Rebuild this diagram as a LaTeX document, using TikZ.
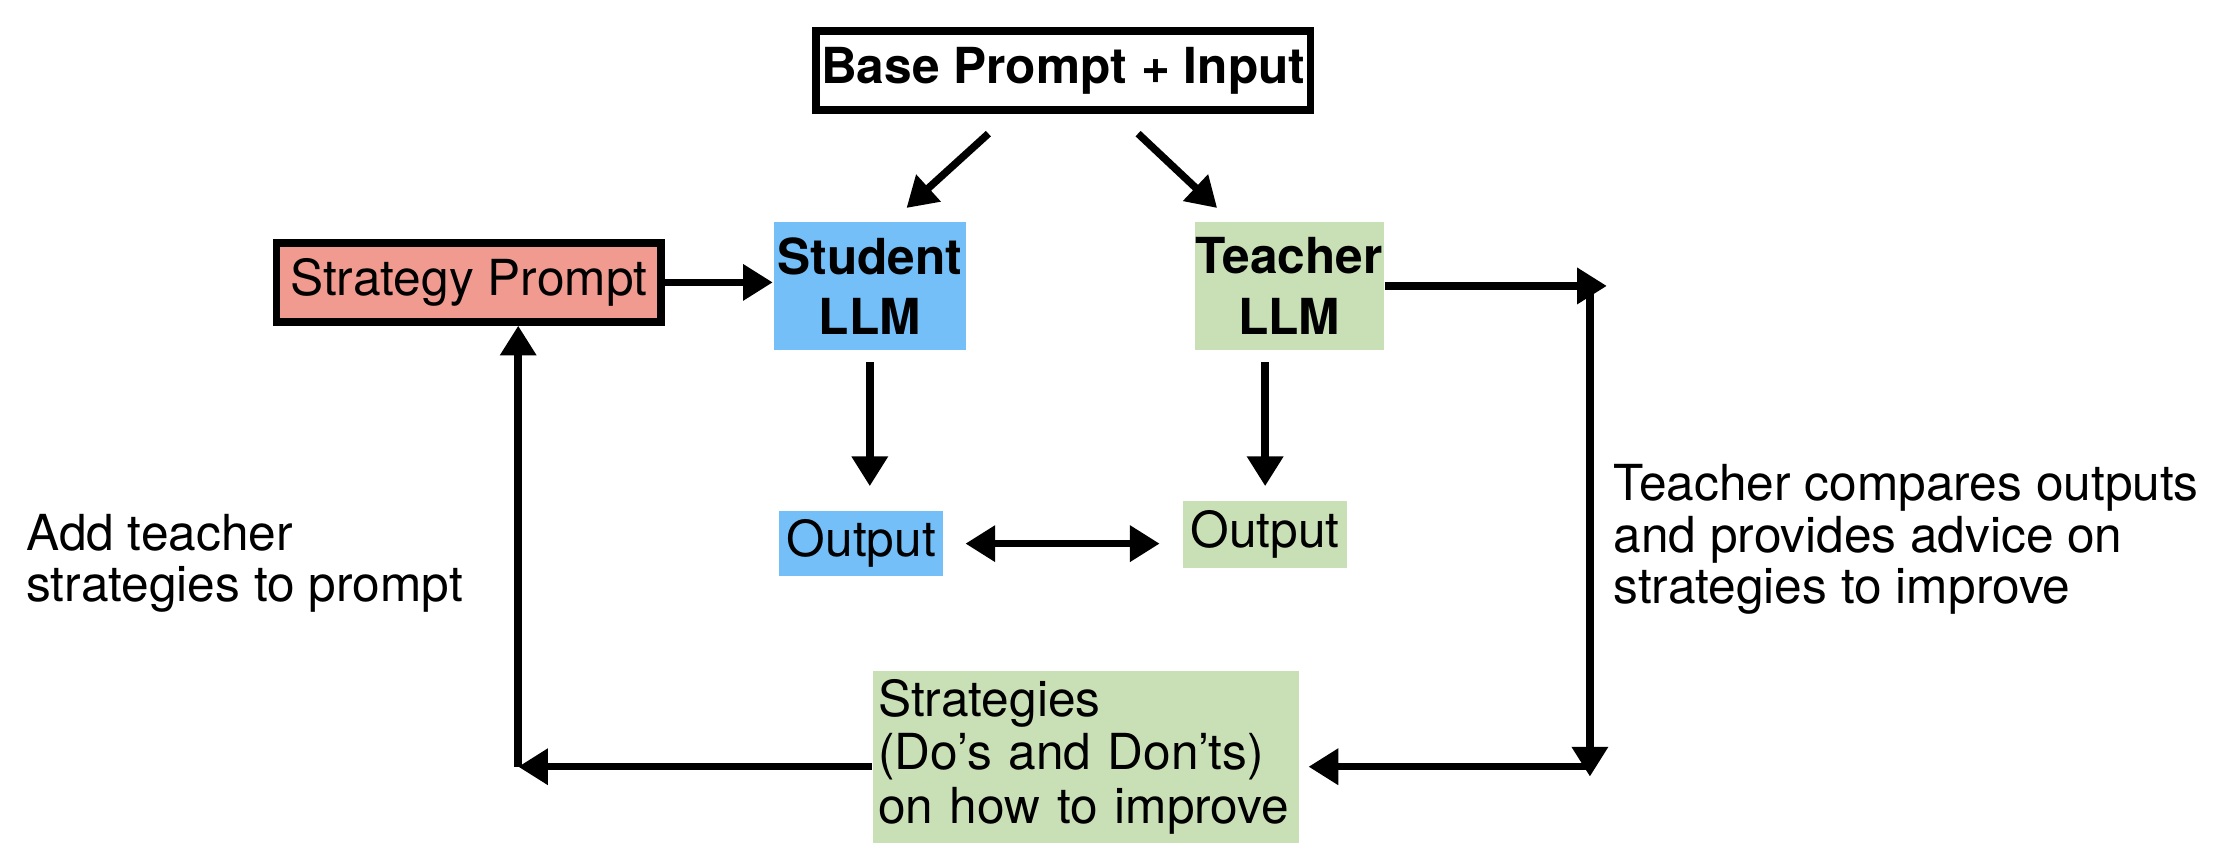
\documentclass[tikz,border=0pt]{standalone}
\usepackage{fontspec}
\setmainfont{TeX Gyre Heros}
\usepackage{tikz}
\usetikzlibrary{arrows.meta}
\definecolor{studentblue}{HTML}{74BFF8}
\definecolor{teachergreen}{HTML}{C9E0B7}
\definecolor{promptred}{HTML}{F09A90}

\begin{document}
\begin{tikzpicture}[x=1cm,y=1cm,font=\fontsize{10}{10.4}\selectfont,
    >={Triangle[length=6pt,width=7pt]},
    box/.style={inner sep=0pt,align=center},
    llm/.style={box,minimum height=0.91cm,
      font=\fontsize{10}{12.2}\selectfont\bfseries},
    flow/.style={line width=1.5pt,->}]
  \useasboundingbox (0,0) rectangle (15.68,6.08);

  \node[box,draw,line width=1.5pt,minimum width=3.5cm,minimum height=0.56cm,
        font=\bfseries] (base) at (7.53,5.58) {Base Prompt + Input};
  \node[llm,fill=studentblue,minimum width=1.36cm] (student) at (6.16,4.055)
    {Student\\LLM};
  \node[llm,fill=teachergreen,minimum width=1.34cm] (teacher) at (9.13,4.055)
    {Teacher\\LLM};
  \node[box,draw,line width=1.5pt,fill=promptred,minimum width=2.72cm,
        minimum height=0.56cm] (strat) at (3.32,4.08) {Strategy Prompt};

  \node[box,fill=studentblue,minimum width=1.16cm,minimum height=0.46cm]
    (outS) at (6.10,2.23) {Output};
  \node[box,fill=teachergreen,minimum width=1.16cm,minimum height=0.47cm]
    (outT) at (8.96,2.295) {Output};

  \node[box,fill=teachergreen,align=left,text width=2.94cm,inner xsep=0.04cm,
        minimum height=1.22cm,font=\fontsize{10}{10.8}\selectfont]
    (tips) at (7.69,0.72) {Strategies\\(Do’s and Don’ts)\\on how to improve};

  \node[anchor=west,inner sep=0pt,align=left] (addnote) at (0.18,2.09)
    {Add teacher\\strategies to prompt};
  \node[anchor=west,inner sep=0pt,align=left] (cmpnote) at (11.42,2.26)
    {Teacher compares outputs\\and provides advice on\\strategies to improve};

  % corners of the feedback loop
  \coordinate (ne) at (11.26,4.00);
  \coordinate (se) at (11.26,0.65);
  \coordinate (sw) at (3.67,0.65);

  \draw[flow] ([xshift=-0.53cm,yshift=-0.14cm]base.south)
    -- ([xshift=0.26cm,yshift=0.09cm]student.north);
  \draw[flow] ([xshift=0.53cm,yshift=-0.14cm]base.south)
    -- ([xshift=-0.51cm,yshift=0.09cm]teacher.north);
  \draw[flow] (strat.east) -- (strat.east -| student.west);
  \draw[flow,shorten <=0.08cm,shorten >=0.17cm] (student.south)
    -- (student.south |- outS.north);
  \draw[flow,shorten <=0.08cm,shorten >=0.10cm] (outT.north |- teacher.south)
    -- (outT.north);
  \draw[flow,<->,shorten <=0.15cm,shorten >=0.16cm] (outS.east)
    -- (outS.east -| outT.west);

  \draw[flow] (teacher.east) -- ([xshift=0.12cm]teacher.east -| ne);
  \draw[flow] (ne) -- ([yshift=-0.07cm]se);
  \draw[flow,shorten >=0.06cm] (se) -- (se -| tips.east);
  \draw[flow] (tips.west |- sw) -- (sw);
  \draw[flow] (sw) -- (sw |- strat.south);
\end{tikzpicture}
\end{document}
